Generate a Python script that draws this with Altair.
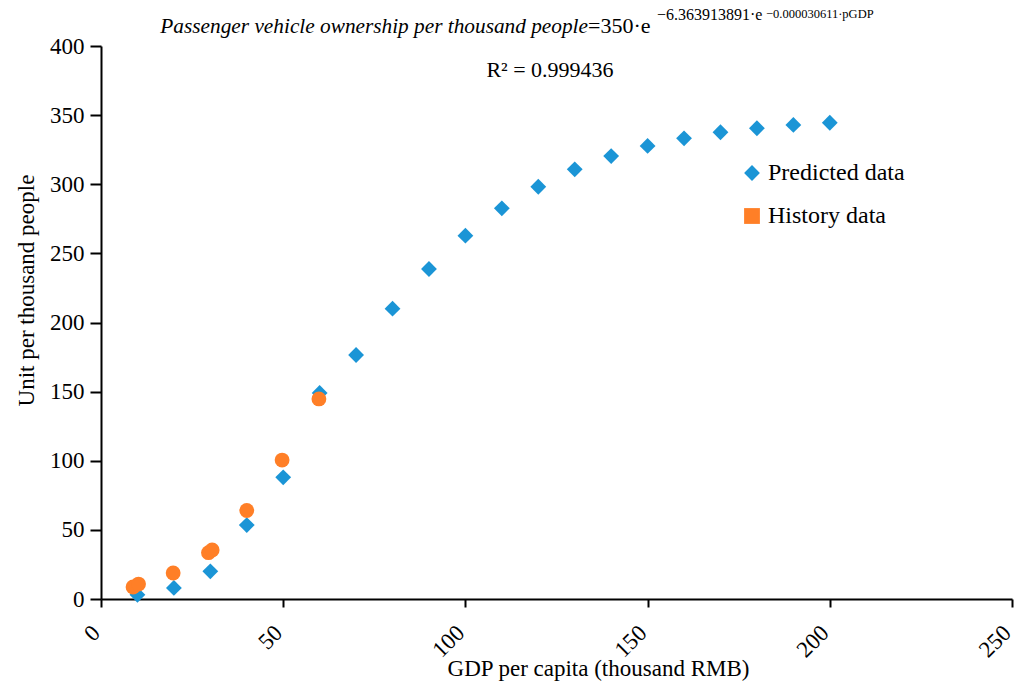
import altair as alt
import pandas as pd

# Predicted data (GDP per capita, thousand RMB -> units per thousand people)
pred_x = [10, 20, 30, 40, 50, 60, 70, 80, 90, 100, 110, 120, 130, 140, 150, 160, 170, 180, 190, 200]
pred_y = [3, 8, 20, 53.5, 88, 149, 176.5, 210, 238.7, 262.8, 282.6, 298.2, 310.8, 320.4, 327.7, 333.2, 337.6, 340.5, 342.9, 344.5]

# History data
hist_x = [8.8, 10.3, 19.8, 29.5, 30.5, 40, 49.7, 59.8]
hist_y = [8.7, 10.8, 18.8, 33.5, 35.5, 64, 100.5, 144.7]

series_names = ["Predicted data", "History data"]
series_colors = ["#1b95d6", "#ff7f27"]
x_ticks = [0, 50, 100, 150, 200, 250]
y_ticks = [0, 50, 100, 150, 200, 250, 300, 350, 400]

FONT = "Liberation Serif"

pred_df = pd.DataFrame({"gdp": pred_x, "val": pred_y, "series": series_names[0]})
hist_df = pd.DataFrame({"gdp": hist_x, "val": hist_y, "series": series_names[1]})

x_enc = alt.X("gdp:Q", scale=alt.Scale(domain=[0, 250], nice=False),
              axis=alt.Axis(values=x_ticks, title="GDP per capita (thousand RMB)",
                            labelAngle=315, labelAlign="right", labelBaseline="middle",
                            labelPadding=22, labelOffset=-5, tickSize=8, labelFontSize=23,
                            titleX=497, titleY=69, titleBaseline="middle"))
y_enc = alt.Y("val:Q", scale=alt.Scale(domain=[0, 400], nice=False),
              axis=alt.Axis(values=y_ticks, title="Unit per thousand people",
                            tickSize=11, labelPadding=6, labelFontSize=23,
                            titleX=-75, titleY=244, titleBaseline="middle"))

color_enc = alt.Color("series:N", scale=alt.Scale(domain=series_names, range=series_colors),
                      legend=alt.Legend(title=None, orient="none", legendX=639, legendY=115,
                                        labelFont=FONT, labelFontSize=24, labelColor="black",
                                        symbolSize=250, symbolStrokeWidth=0, padding=0,
                                        rowPadding=19, labelOffset=4))
shape_scale = alt.Scale(domain=series_names, range=["diamond", "square"])

pred = alt.Chart(pred_df).mark_point(filled=True, opacity=1, size=250).encode(
    x=x_enc, y=y_enc, color=color_enc,
    shape=alt.Shape("series:N", scale=shape_scale, legend=alt.Legend(title=None, orient="none",
                    legendX=639, legendY=115))
)
hist = alt.Chart(hist_df).mark_point(filled=True, opacity=1, size=220, shape="circle").encode(
    x=x_enc, y=y_enc, color=color_enc
)

# Title / formula annotation pieces
def txt(s, x, y, size, align="left", style="normal", font=FONT):
    return alt.Chart(pd.DataFrame({"t": [s]})).mark_text(
        align=align, baseline="alphabetic", font=font, fontSize=size,
        fontStyle=style, color="black"
    ).encode(text="t:N", x=alt.value(x), y=alt.value(y))

t1 = txt("Passenger vehicle ownership per thousand people", 487, -13, 21.3, align="right", style="italic")
t2 = txt("=350·e", 487, -13, 22)
t3 = txt("−6.363913891·e", 556, -26, 16)
t4 = txt("−0.000030611·pGDP", 665, -28, 12.5)
t5 = txt("R² = 0.999436", 449, 31, 22, align="center")

chart = alt.layer(pred, hist, t1, t2, t3, t4, t5).properties(
    width=911, height=553,
    autosize=alt.AutoSizeParams(type="none"),
    padding={"left": 101, "top": 46, "right": 5, "bottom": 85},
).configure_view(stroke=None).configure_axis(
    grid=False, domainColor="black", domainWidth=2, tickColor="black", tickWidth=2,
    labelFont=FONT, labelColor="black",
    titleFont=FONT, titleFontSize=23, titleFontWeight="normal", titleColor="black",
)

chart.save("out.html", embed_options={"renderer": "svg", "actions": False})
